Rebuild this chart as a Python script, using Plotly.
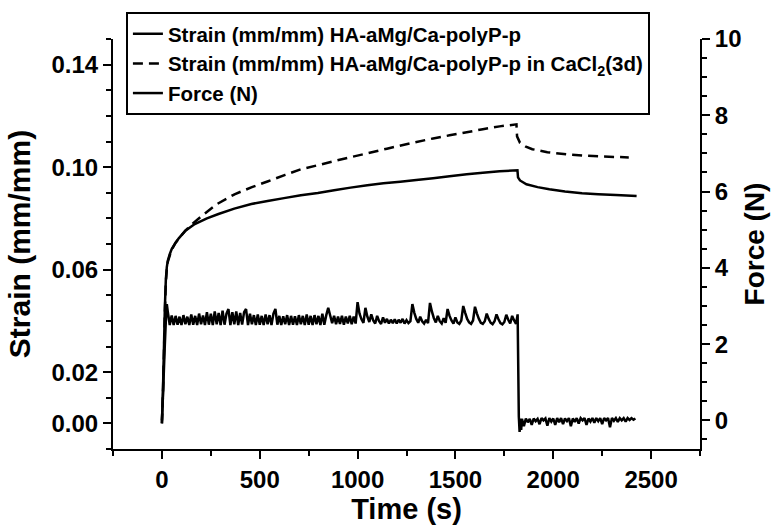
import plotly.graph_objects as go

# ---------------- data ----------------
strain1_t = [0, 5, 10, 15, 20, 25, 30, 40, 50, 70, 86, 120, 168, 230, 289, 370, 457, 540, 624, 710,
             797, 880, 964, 1050, 1132, 1218, 1300, 1386, 1470, 1558, 1640, 1726, 1817, 1820, 1830,
             1863, 1920, 1980, 2060, 2147, 2230, 2320, 2426]
strain1_v = [0, 0.012, 0.028, 0.045, 0.056, 0.061, 0.0635, 0.066, 0.068, 0.0705, 0.0722, 0.0752,
             0.0778, 0.0800, 0.0817, 0.0838, 0.0856, 0.0868, 0.0879, 0.0890, 0.0899, 0.0910, 0.0920,
             0.0929, 0.0937, 0.0943, 0.0950, 0.0957, 0.0964, 0.0972, 0.0978, 0.0984, 0.0988, 0.0960,
             0.0948, 0.0933, 0.0922, 0.0914, 0.0905, 0.0898, 0.0894, 0.0891, 0.0887]

strain2_t = [0, 5, 10, 15, 20, 25, 30, 40, 50, 70, 90, 120, 150, 203, 280, 371, 460, 543, 630, 711,
             800, 878, 960, 1051, 1150, 1269, 1386, 1470, 1558, 1640, 1726, 1812, 1815, 1830, 1860,
             1893, 1970, 2066, 2150, 2234, 2310, 2386]
strain2_v = [0, 0.011, 0.026, 0.043, 0.055, 0.060, 0.063, 0.0655, 0.0678, 0.0705, 0.0725, 0.0752,
             0.0775, 0.0809, 0.0855, 0.0894, 0.0922, 0.0945, 0.0970, 0.0992, 0.1008, 0.1023, 0.1038,
             0.1054, 0.1072, 0.1093, 0.1112, 0.1124, 0.1136, 0.1148, 0.1159, 0.1167, 0.1120, 0.1095,
             0.1080, 0.1070, 0.1058, 0.1050, 0.1045, 0.1042, 0.1040, 0.1038]

force_t = [0, 5, 10, 15, 20, 25,
           30, 40, 50, 60, 70, 80, 90, 100, 110, 120, 130, 140, 150, 160, 170, 180, 190, 200,
           210, 220, 230, 240, 250, 260, 270, 280, 290, 300, 310, 320, 330, 340, 350, 360, 370,
           380, 390, 400, 410, 420, 430, 440, 450, 460, 470, 480, 490, 500, 510, 520, 530, 540,
           550, 560, 570, 580, 590, 600, 610, 620, 630, 640, 650, 660, 670, 680, 690, 700, 710,
           720, 730, 740, 750, 760, 770, 780, 790, 800, 810, 820, 830, 840, 850,
           860, 870, 880, 890, 900, 910, 920, 930, 940, 950, 960, 970, 980, 990, 1000, 1010,
           1020, 1030, 1040, 1050, 1060, 1070, 1080, 1090, 1100, 1110, 1120, 1130, 1140, 1150,
           1160, 1170, 1180, 1190, 1200, 1210, 1220, 1230, 1240, 1250, 1260, 1270, 1280, 1290,
           1300, 1310, 1320, 1330, 1340, 1350, 1360, 1370, 1380, 1390, 1400, 1410, 1420, 1430,
           1440, 1450, 1460, 1470, 1480, 1490, 1500, 1510, 1520, 1530, 1540, 1550, 1560, 1570,
           1580, 1590, 1600, 1610, 1620, 1630, 1640, 1650, 1660, 1670, 1680, 1690, 1700, 1710,
           1720, 1730, 1740, 1750, 1760, 1770, 1780, 1790, 1800, 1810, 1818,
           1824, 1828, 1832, 1836, 1840, 1850, 1860, 1870, 1880, 1890, 1900, 1910, 1920, 1930,
           1940, 1950, 1960, 1970, 1980, 1990, 2000, 2010, 2020, 2030, 2040, 2050, 2060, 2070,
           2080, 2090, 2100, 2110, 2120, 2130, 2140, 2150, 2160, 2170, 2180, 2190, 2200, 2210,
           2220, 2230, 2240, 2250, 2260, 2270, 2280, 2290, 2300, 2310, 2320, 2330, 2340, 2350,
           2360, 2370, 2380, 2390, 2400, 2410, 2420]
force_v = [0.0, 0.6, 1.3, 2.0, 2.6, 3.05,
           2.85, 2.50, 2.75, 2.50, 2.74, 2.51, 2.72, 2.50, 2.76, 2.52, 2.72, 2.50, 2.78, 2.51,
           2.74, 2.50, 2.80, 2.52, 2.75, 2.50, 2.84, 2.51, 2.80, 2.50, 2.86, 2.52, 2.82, 2.50,
           2.88, 2.51, 2.80, 2.92, 2.50, 2.84, 2.52, 2.86, 2.50, 2.82, 2.51, 2.84, 2.92, 2.50,
           2.80, 2.52, 2.76, 2.50, 2.78, 2.51, 2.74, 2.50, 2.78, 2.52, 2.76, 2.50, 2.80, 2.92,
           2.51, 2.74, 2.50, 2.73, 2.52, 2.76, 2.50, 2.74, 2.51, 2.73, 2.50, 2.76, 2.52, 2.74,
           2.50, 2.78, 2.51, 2.74, 2.50, 2.76, 2.52, 2.74, 2.50, 2.80, 2.51, 2.76, 2.95,
           2.75, 2.55, 2.74, 2.52, 2.72, 2.53, 2.74, 2.51, 2.72, 2.54, 2.74, 2.52, 2.72, 2.54,
           3.10, 2.80, 2.65, 2.56, 2.95, 2.72, 2.58, 2.78, 2.62, 2.54, 2.74, 2.60, 2.53, 2.70,
           2.56, 2.66, 2.54, 2.64, 2.55, 2.65, 2.54, 2.64, 2.56, 2.66, 2.54, 2.63, 2.55, 2.60,
           3.05, 2.82, 2.66, 2.56, 2.72, 2.60, 2.54, 2.64, 2.55, 3.08, 2.85, 2.68, 2.57, 2.74,
           2.60, 2.54, 2.68, 2.56, 2.92, 2.74, 2.62, 2.54, 2.70, 2.57, 2.53, 2.62, 3.00, 2.82,
           2.66, 2.57, 2.53, 2.62, 2.98, 2.80, 2.66, 2.56, 2.53, 2.60, 2.80, 2.66, 2.56, 2.52,
           2.60, 2.78, 2.65, 2.55, 2.52, 2.58, 2.77, 2.64, 2.54, 2.74, 2.62, 2.53, 2.78,
           0.10, -0.30, 0.05, -0.25, 0.04, -0.15, 0.05, -0.05, 0.04, -0.12, 0.05, -0.02, 0.04,
           -0.10, 0.06, 0.00, 0.05, -0.14, 0.06, -0.03, 0.05, -0.12, 0.06, -0.05, 0.06, -0.10,
           0.05, -0.02, 0.06, -0.15, 0.05, -0.04, 0.06, -0.08, 0.06, 0.00, 0.06, -0.12, 0.05,
           -0.03, 0.06, -0.06, 0.06, -0.02, 0.06, -0.10, 0.06, 0.00, 0.06, -0.18, 0.06, -0.01,
           0.06, -0.04, 0.06, 0.00, 0.06, -0.03, 0.06, 0.01, 0.06, 0.02, 0.05]

x_ticks = [0, 500, 1000, 1500, 2000, 2500]
y_ticks = [0.00, 0.02, 0.06, 0.10, 0.14]
y_ticktext = ["0.00", "0.02", "0.06", "0.10", "0.14"]
y2_ticks = [0, 2, 4, 6, 8, 10]

names = ["Strain (mm/mm) HA-aMg/Ca-polyP-p",
         "Strain (mm/mm) HA-aMg/Ca-polyP-p in CaCl<sub>2</sub>(3d)",
         "Force (N)"]

# ---------------- figure ----------------
FONT = "Liberation Sans, Arial, sans-serif"
fig = go.Figure()
fig.add_trace(go.Scatter(x=strain1_t, y=strain1_v, mode="lines", name=names[0],
                         line=dict(color="black", width=2.5, simplify=False)))
fig.add_trace(go.Scatter(x=strain2_t, y=strain2_v, mode="lines", name=names[1],
                         line=dict(color="black", width=2.5, dash="10px,6px", simplify=False)))
fig.add_trace(go.Scatter(x=force_t, y=force_v, mode="lines", name=names[2], yaxis="y2",
                         line=dict(color="black", width=2.5, simplify=False)))

axis_common = dict(showgrid=False, zeroline=False, showline=True, linecolor="black", linewidth=2,
                   ticks="outside", ticklen=8, tickwidth=2, tickcolor="black",
                   tickfont=dict(family=FONT, size=24, color="black", weight="bold"))

fig.update_layout(
    width=777, height=532,
    margin=dict(l=113, r=73, t=37, b=83),
    paper_bgcolor="white", plot_bgcolor="white",
    font=dict(family=FONT, color="black", weight="bold"),
    showlegend=True,
    legend=dict(x=0.022, y=1.066, xanchor="left", yanchor="top",
                bordercolor="black", borderwidth=2, bgcolor="white",
                font=dict(family=FONT, size=20.5, color="black", weight="bold"),
                entrywidthmode="pixels", entrywidth=515,
                tracegroupgap=0),
    xaxis=dict(range=[-250, 2750], tickmode="array", tickvals=x_ticks,
               minor=dict(tick0=0, dtick=250, ticks="outside", ticklen=5, tickwidth=2, tickcolor="black"),
               title=dict(text="Time (s)", font=dict(family=FONT, size=29, color="black", weight="bold"),
                          standoff=6),
               **axis_common),
    yaxis=dict(range=[-0.01, 0.15], tickmode="array", tickvals=y_ticks, ticktext=y_ticktext,
               minor=dict(tick0=0, dtick=0.01, ticks="outside", ticklen=5, tickwidth=2, tickcolor="black"),
               title=dict(text="Strain (mm/mm)", font=dict(family=FONT, size=30, color="black", weight="bold"),
                          standoff=12),
               **axis_common),
    yaxis2=dict(range=[-0.75, 10], overlaying="y", side="right", tickmode="array", tickvals=y2_ticks,
                minor=dict(tick0=0, dtick=0.5, ticks="outside", ticklen=5, tickwidth=2, tickcolor="black"),
                title=dict(text="Force (N)", font=dict(family=FONT, size=28, color="black", weight="bold"),
                           standoff=4),
                **axis_common),
)

fig.write_html("out.html", config={"displayModeBar": False},
               post_script="document.body.style.margin='0';document.body.style.padding='0';")
